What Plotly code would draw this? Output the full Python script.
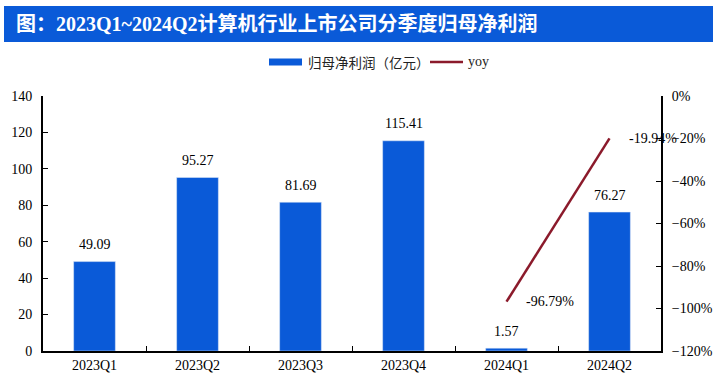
import plotly.graph_objects as go

quarters = ["2023Q1", "2023Q2", "2023Q3", "2023Q4", "2024Q1", "2024Q2"]
profit = [49.09, 95.27, 81.69, 115.41, 1.57, 76.27]
yoy_quarters = ["2024Q1", "2024Q2"]
yoy = [-0.9679, -0.1994]
left_ticks = [0, 20, 40, 60, 80, 100, 120, 140]
right_ticks = [-1.2, -1.0, -0.8, -0.6, -0.4, -0.2, 0.0]

title_text = "图：2023Q1~2024Q2计算机行业上市公司分季度归母净利润"
bar_name = "归母净利润（亿元）"
line_name = "yoy"

BLUE = "#0A5AD8"
RED = "#8B1A2B"
SERIF = "Liberation Serif, Times New Roman, serif"
CJK = "Noto Sans CJK SC, sans-serif"

# plot area in pixels
L, R, T, B = 43, 661, 96, 351
W, H = 720, 392
pw, ph = R - L, B - T


def px(x):
    return (x - L) / pw


def py(y):
    return (B - y) / ph


fig = go.Figure()
fig.add_trace(go.Bar(x=quarters, y=profit, marker_color=BLUE, width=0.405,
                     name=bar_name, showlegend=False))
fig.add_trace(go.Scatter(x=yoy_quarters, y=yoy, mode="lines", yaxis="y2",
                         line=dict(color=RED, width=2.5), name=line_name,
                         showlegend=False))

annotations = []
for q, v in zip(quarters, profit):
    annotations.append(dict(x=q, y=v, xref="x", yref="y", text=f"{v:.2f}",
                            showarrow=False, yanchor="middle", yshift=17,
                            font=dict(family=SERIF, size=14, color="black")))
for q, v in zip(yoy_quarters, yoy):
    annotations.append(dict(x=q, y=v, xref="x", yref="y2", text=f"{v*100:.2f}%",
                            showarrow=False, xanchor="left", yanchor="middle",
                            xshift=17, font=dict(family=SERIF, size=14, color="black")))

# title
annotations.append(dict(x=px(14), y=py(24), xref="paper", yref="paper",
                        text="<b>" + title_text + "</b>", showarrow=False,
                        xanchor="left", yanchor="middle",
                        font=dict(family="Liberation Serif, Noto Sans CJK SC", size=20,
                                  color="white")))
# legend texts
annotations.append(dict(x=px(306), y=py(62), xref="paper", yref="paper",
                        text=bar_name, showarrow=False, xanchor="left", yanchor="middle",
                        font=dict(family=CJK, size=13.5, color="#222")))
annotations.append(dict(x=px(466), y=py(61), xref="paper", yref="paper",
                        text=line_name, showarrow=False, xanchor="left", yanchor="middle",
                        font=dict(family=SERIF, size=14, color="#222")))

shapes = [
    dict(type="rect", xref="paper", yref="paper", x0=px(4), x1=px(713),
         y0=py(6), y1=py(42), fillcolor=BLUE, line=dict(width=0), layer="below"),
    dict(type="rect", xref="paper", yref="paper", x0=px(269), x1=px(302),
         y0=py(58.5), y1=py(65.5), fillcolor=BLUE, line=dict(width=0)),
    dict(type="line", xref="paper", yref="paper", x0=px(430), x1=px(463),
         y0=py(62), y1=py(62), line=dict(color=RED, width=2.5)),
]

fig.update_layout(
    width=W, height=H,
    margin=dict(l=L, r=W - R, t=T, b=H - B, pad=0, autoexpand=False),
    paper_bgcolor="white", plot_bgcolor="white",
    showlegend=False,
    annotations=annotations, shapes=shapes,
    xaxis=dict(type="category", categoryorder="array", categoryarray=quarters,
               range=[-0.5, len(quarters) - 0.5],
               automargin=False,
               showline=True, linecolor="black", linewidth=2,
               ticks="inside", tickson="boundaries", ticklen=5, tickcolor="black",
               tickwidth=1, showgrid=False, zeroline=False,
               tickfont=dict(family=SERIF, size=14, color="black")),
    yaxis=dict(range=[0, 140], tickvals=left_ticks, showline=True, linecolor="black",
               automargin=False,
               linewidth=2, ticks="inside", ticklen=5, tickcolor="black",
               showgrid=False, zeroline=False, ticklabelstandoff=6,
               tickfont=dict(family=SERIF, size=14, color="black")),
    yaxis2=dict(range=[-1.2, 0], tickvals=right_ticks, tickformat=".0%",
                automargin=False,
                overlaying="y", side="right", showline=True, linecolor="black",
                linewidth=2, ticks="inside", ticklen=5, tickcolor="black",
                showgrid=False, zeroline=False, ticklabelstandoff=6,
                tickfont=dict(family=SERIF, size=14, color="black")),
)

fig.write_html("out.html", config={"displayModeBar": False},
               post_script="document.body.style.margin='0';document.body.style.overflow='hidden';")
